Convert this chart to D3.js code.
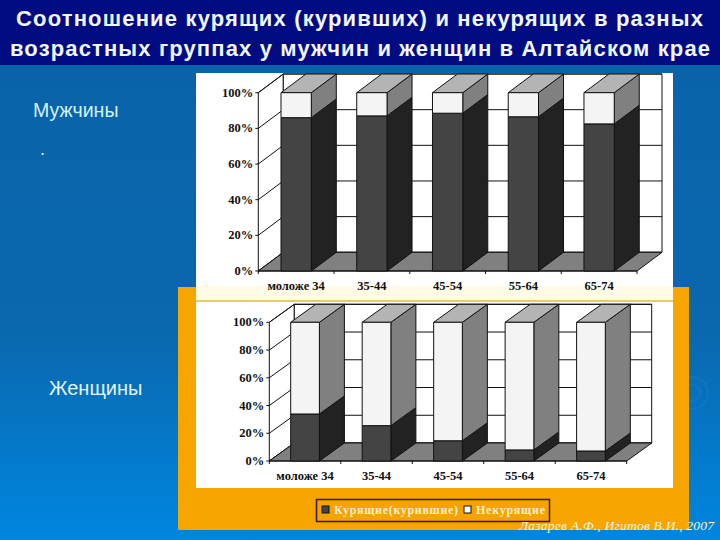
<!DOCTYPE html>
<html><head><meta charset="utf-8">
<script src="https://cdn.jsdelivr.net/npm/d3@7"></script>
<style>html,body{margin:0;padding:0;background:#0a66aa}svg{display:block}</style>
</head><body><svg id="c" width="720" height="540"></svg>
<script>
const categories = ["моложе 34","35-44","45-54","55-64","65-74"];
const menSmokers = [86,87,88.5,86.5,82.5];
const womenSmokers = [33.9,25.5,14.6,8,7.2];
const yTicks = [0,20,40,60,80,100];
const titleLines = ["Соотношение курящих (куривших) и некурящих в разных","возрастных группах у мужчин и женщин в Алтайском крае"];
const legendLabels = ["Курящие(курившие)","Некурящие"];
const credit = "Лазарев А.Ф., Игитов В.И., 2007";

const svg = d3.select("#c");
const defs = svg.append("defs");
const grad = defs.append("linearGradient").attr("id","bg").attr("x1",0).attr("x2",0).attr("y1",0).attr("y2",1);
grad.append("stop").attr("offset","0%").attr("stop-color","#0a62a8");
grad.append("stop").attr("offset","62%").attr("stop-color","#0a68ae");
grad.append("stop").attr("offset","100%").attr("stop-color","#0086e0");
svg.append("rect").attr("width",720).attr("height",540).attr("fill","url(#bg)");

[8,16].forEach(r=>svg.append("circle").attr("cx",692).attr("cy",393).attr("r",r).attr("fill","none").attr("stroke","#3aa0e6").attr("stroke-opacity",0.14).attr("stroke-width",2));

svg.append("rect").attr("width",720).attr("height",65).attr("fill","#020c82");
const tl = [[16,687,26],[10,700,56]];
titleLines.forEach((t,i)=>{
  svg.append("text").text(t).attr("x",tl[i][0]).attr("y",tl[i][2])
    .attr("textLength",tl[i][1]).attr("lengthAdjust","spacing")
    .attr("font-family","Liberation Sans").attr("font-weight","bold").attr("font-size",22)
    .attr("fill","#f2f6ff");
});

svg.append("text").text("Мужчины").attr("x",33).attr("y",117).attr("font-family","Liberation Sans").attr("font-size",19.6).attr("fill","#d4f2fb");
svg.append("text").text(".").attr("x",40).attr("y",155).attr("font-family","Liberation Sans").attr("font-size",18).attr("fill","#d4f2fb");
svg.append("text").text("Женщины").attr("x",49).attr("y",395).attr("font-family","Liberation Sans").attr("font-size",20).attr("fill","#e4f6fb");

svg.append("rect").attr("x",178).attr("y",287).attr("width",511).attr("height",243).attr("fill","#f7a500");
svg.append("rect").attr("x",196).attr("y",73).attr("width",477).attr("height",227).attr("fill","#ffffff");
svg.append("rect").attr("x",196).attr("y",286).attr("width",477).attr("height",14).attr("fill","#fffbe6");
svg.append("rect").attr("x",196).attr("y",300).attr("width",477).attr("height",2).attr("fill","#e8cf5a");
svg.append("rect").attr("x",196).attr("y",302).attr("width",477).attr("height",186).attr("fill","#ffffff");

function chart(values, o){
  const g = svg.append("g");
  const y = d3.scaleLinear().domain([0,100]).range([o.y0,o.y1]);
  const x = d3.scaleBand().domain(categories).range([o.x0,o.x1]).padding(0);
  const dx=o.dx, dy=o.dy;
  const stroke="#111";
  const poly=(pts,fill)=>g.append("polygon").attr("points",pts.map(p=>p.join(",")).join(" ")).attr("fill",fill).attr("stroke",stroke).attr("stroke-width",1).attr("stroke-linejoin","round");
  poly([[o.x0,y(0)],[o.x0+dx,y(0)-dy],[o.x0+dx,y(100)-dy],[o.x0,y(100)]],"#fff");
  poly([[o.x0+dx,y(0)-dy],[o.x1+dx,y(0)-dy],[o.x1+dx,y(100)-dy],[o.x0+dx,y(100)-dy]],"#fff");
  yTicks.forEach(t=>{
    g.append("path").attr("d",`M${o.x0},${y(t)}L${o.x0+dx},${y(t)-dy}L${o.x1+dx},${y(t)-dy}`).attr("fill","none").attr("stroke",stroke).attr("stroke-width",1);
    g.append("line").attr("x1",o.x0-3).attr("x2",o.x0).attr("y1",y(t)).attr("y2",y(t)).attr("stroke",stroke);
    g.append("text").text(t+"%").attr("x",o.x0-5).attr("y",y(t)+4).attr("text-anchor","end")
     .attr("font-family","Liberation Serif").attr("font-weight","bold").attr("font-size",o.fs).attr("fill","#111");
  });
  poly([[o.x0,y(0)],[o.x1,y(0)],[o.x1+dx,y(0)-dy],[o.x0+dx,y(0)-dy]],"#808080");
  g.append("line").attr("x1",o.x0).attr("x2",o.x1).attr("y1",y(0)).attr("y2",y(0)).attr("stroke",stroke);
  d3.range(categories.length+1).forEach(i=>{
    const tx=o.x0+i*x.step();
    g.append("line").attr("x1",tx).attr("x2",tx).attr("y1",y(0)).attr("y2",y(0)+3).attr("stroke",stroke);
  });
  categories.forEach((c,i)=>{
    const bx=x(c)+o.off, bw=o.bw, v=values[i];
    poly([[bx+bw,y(0)],[bx+bw+dx,y(0)-dy],[bx+bw+dx,y(v)-dy],[bx+bw,y(v)]],"#222222");
    poly([[bx+bw,y(v)],[bx+bw+dx,y(v)-dy],[bx+bw+dx,y(100)-dy],[bx+bw,y(100)]],"#808080");
    poly([[bx,y(100)],[bx+bw,y(100)],[bx+bw+dx,y(100)-dy],[bx+dx,y(100)-dy]],"#b4b4b4");
    poly([[bx,y(0)],[bx+bw,y(0)],[bx+bw,y(v)],[bx,y(v)]],"#444444");
    poly([[bx,y(v)],[bx+bw,y(v)],[bx+bw,y(100)],[bx,y(100)]],"#f4f4f4");
    g.append("text").text(c).attr("x",bx+bw/2).attr("y",y(0)+o.ly).attr("text-anchor","middle")
     .attr("font-family","Liberation Serif").attr("font-weight","bold").attr("font-size",o.fs).attr("fill","#111");
  });
}
chart(menSmokers,{x0:258.3,x1:637,y0:271,y1:92.7,dx:25,dy:18.7,off:22.7,bw:30.3,fs:12.5,ly:19});
chart(womenSmokers,{x0:269.3,x1:626.7,y0:461,y1:322.3,dx:25,dy:18,off:21.4,bw:28.7,fs:12.5,ly:18.5});

svg.append("rect").attr("x",316.5).attr("y",499.5).attr("width",233).attr("height",22).attr("fill","#f5a300").attr("stroke","#3c1a00").attr("stroke-width",1.5);
svg.append("rect").attr("x",322).attr("y",506).attr("width",7).attr("height",7).attr("fill","#444").attr("stroke","#111");
svg.append("text").text(legendLabels[0]).attr("x",334).attr("y",514).attr("textLength",124).attr("lengthAdjust","spacing").attr("font-family","Liberation Serif").attr("font-weight","bold").attr("font-size",12).attr("fill","#fdf0d0");
svg.append("rect").attr("x",464).attr("y",506).attr("width",7).attr("height",7).attr("fill","#fff").attr("stroke","#111");
svg.append("text").text(legendLabels[1]).attr("x",476).attr("y",514).attr("textLength",69).attr("lengthAdjust","spacing").attr("font-family","Liberation Serif").attr("font-weight","bold").attr("font-size",12).attr("fill","#fdf0d0");
svg.append("text").text(credit).attr("x",519).attr("y",530).attr("textLength",195).attr("lengthAdjust","spacing").attr("font-family","Liberation Serif").attr("font-style","italic").attr("font-size",13.5).attr("fill","#fff8e0");
</script></body></html>
